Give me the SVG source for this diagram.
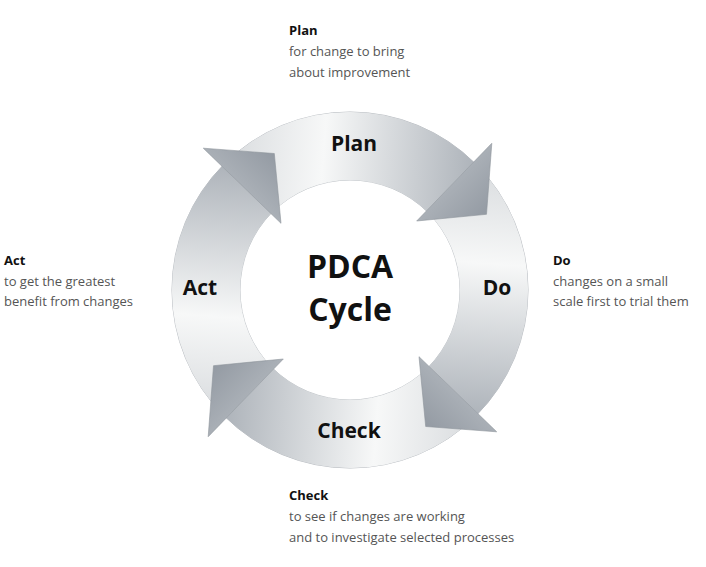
<svg xmlns="http://www.w3.org/2000/svg" width="706" height="567" viewBox="0 0 706 567">
<style>
.lbl{font-family:"Open Sans","Liberation Sans",sans-serif;font-weight:bold;fill:#111;text-anchor:middle}
.t{font-family:"Open Sans","Liberation Sans",sans-serif;font-size:13px;fill:#555}
.tb{font-family:"Open Sans","Liberation Sans",sans-serif;font-size:13px;font-weight:bold;fill:#111}
.band{fill:url(#g)}
.head{fill:url(#h);stroke:#8d939b;stroke-width:0.6}
</style>
<defs>
<linearGradient id="g" gradientUnits="userSpaceOnUse" x1="215" y1="180" x2="480" y2="200">
<stop offset="0" stop-color="#d6d9dc"/><stop offset="0.4" stop-color="#f7f8f8"/><stop offset="1" stop-color="#aab0b7"/>
</linearGradient>
<linearGradient id="h" gradientUnits="userSpaceOnUse" x1="420" y1="150" x2="495" y2="220">
<stop offset="0" stop-color="#c0c5ca"/><stop offset="1" stop-color="#8f969f"/>
</linearGradient>
</defs>
<rect width="706" height="567" fill="#fff"/>
<g id="ring">
<circle cx="350" cy="290" r="178" fill="#eef0f1" stroke="#b8bcc1" stroke-width="1"/>
<circle cx="350" cy="290" r="110" fill="#fff" stroke="#c4c8cc" stroke-width="1"/>
</g>
<g id="connectors">
<g id="bands">
<path class="band" d="M224.1,164.1 A178,178 0 0 1 473.7,162.0 L426.4,210.9 A110,110 0 0 0 272.2,212.2 Z"/>
<path class="band" transform="rotate(90 350 290)" d="M224.1,164.1 A178,178 0 0 1 473.7,162.0 L426.4,210.9 A110,110 0 0 0 272.2,212.2 Z"/>
<path class="band" transform="rotate(180 350 290)" d="M224.1,164.1 A178,178 0 0 1 473.7,162.0 L426.4,210.9 A110,110 0 0 0 272.2,212.2 Z"/>
<path class="band" transform="rotate(270 350 290)" d="M224.1,164.1 A178,178 0 0 1 473.7,162.0 L426.4,210.9 A110,110 0 0 0 272.2,212.2 Z"/>
</g>
<g id="heads">
<path class="head" d="M491.8,143.3 L486.5,214.3 L416.7,221.0 Z"/>
<path class="head" transform="rotate(90 350 290)" d="M491.8,143.3 L486.5,214.3 L416.7,221.0 Z"/>
<path class="head" transform="rotate(180 350 290)" d="M491.8,143.3 L486.5,214.3 L416.7,221.0 Z"/>
<path class="head" transform="rotate(270 350 290)" d="M491.8,143.3 L486.5,214.3 L416.7,221.0 Z"/>
</g>
</g>
<g id="plan"><text class="lbl" x="354" y="151" font-size="21">Plan</text></g>
<g id="do"><text class="lbl" x="497" y="295" font-size="21">Do</text></g>
<g id="check"><text class="lbl" x="349" y="438" font-size="21">Check</text></g>
<g id="act"><text class="lbl" x="200" y="295" font-size="21">Act</text></g>
<g id="center"><text class="lbl" x="350" y="278" font-size="32">PDCA</text><text class="lbl" x="350" y="321" font-size="32">Cycle</text></g>
<g id="plan-note"><text class="tb" x="289" y="35">Plan</text><text class="t" x="289" y="56">for change to bring</text><text class="t" x="289" y="77">about improvement</text></g>
<g id="do-note"><text class="tb" x="553" y="265">Do</text><text class="t" x="553" y="286">changes on a small</text><text class="t" x="553" y="306">scale first to trial them</text></g>
<g id="act-note"><text class="tb" x="4" y="265">Act</text><text class="t" x="4" y="286">to get the greatest</text><text class="t" x="4" y="306">benefit from changes</text></g>
<g id="check-note"><text class="tb" x="289" y="500">Check</text><text class="t" x="289" y="521">to see if changes are working</text><text class="t" x="289" y="542">and to investigate selected processes</text></g>
</svg>
